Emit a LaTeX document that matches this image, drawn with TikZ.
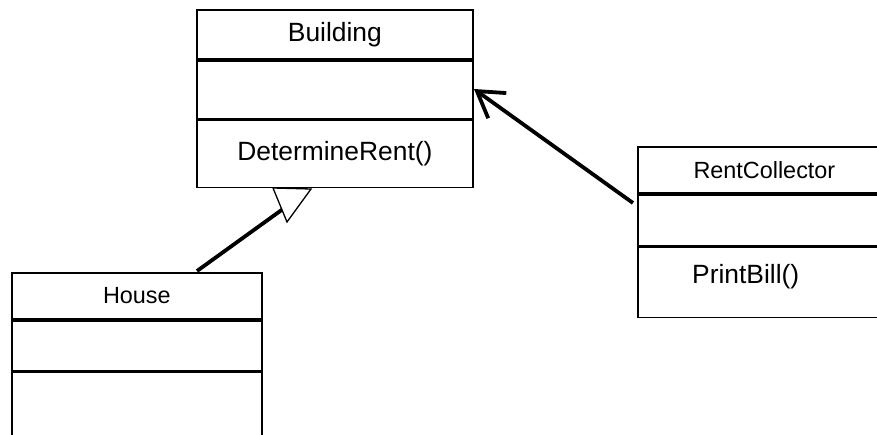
\documentclass[tikz,border=0pt]{standalone}
\usepackage{fontspec}
\setmainfont{Liberation Sans}
\usetikzlibrary{arrows.meta}
\begin{document}
\begin{tikzpicture}[x=1pt,y=-1pt,
  box/.style={draw, line width=1.8pt, inner sep=0pt, anchor=north west},
  big/.style={font=\fontsize{26.4}{30}\selectfont},
  small/.style={font=\fontsize{23.4}{27}\selectfont},
  thickline/.style={line width=3.8pt},
  gentri/.style={draw, line width=1.3pt, fill=white, line join=miter},
  assoc/.style={thickline, -{Straight Barb[length=25pt, width=31pt, line width=3.8pt]}},
]
\clip (0,0) rectangle (877,435);
\fill[white] (0,0) rectangle (877,435);
% Building
\node[box, big, minimum width=276pt, minimum height=49pt] (bname) at (196,9) {Building};
\node[box, minimum width=276pt, minimum height=58pt] (battr) at (bname.south west) {};
\node[box, big, minimum width=276pt, minimum height=67pt] (bops) at (battr.south west) {DetermineRent()};
% RentCollector
\node[box, small, minimum width=253pt, minimum height=46pt] (rname) at (637,146) {RentCollector};
\node[box, minimum width=253pt, minimum height=51pt] (rattr) at (rname.south west) {};
\node[box, minimum width=253pt, minimum height=70pt] (rops) at (rattr.south west) {};
\node[big, anchor=west, inner sep=0pt] (rtext) at (692,277) {PrintBill()};
% House
\node[box, small, minimum width=250pt, minimum height=46pt] (hname) at (11,272) {House};
\node[box, minimum width=250pt, minimum height=50pt] (hattr) at (hname.south west) {};
\node[box, minimum width=250pt, minimum height=80pt] (hops) at (hattr.south west) {};
% generalization
\coordinate (g1) at (197,271);
\coordinate (g2) at (283,209);
\coordinate (t1) at (273,188);
\coordinate (t2) at (311,189);
\coordinate (t3) at (287,222);
\draw[thickline] (g1) -- (g2);
\draw[gentri] (t1) -- (t2) -- (t3) -- cycle;
% association
\coordinate (a1) at (633,203);
\coordinate (a2) at (474,89);
\draw[assoc] (a1) -- (a2);
\end{tikzpicture}
\end{document}
